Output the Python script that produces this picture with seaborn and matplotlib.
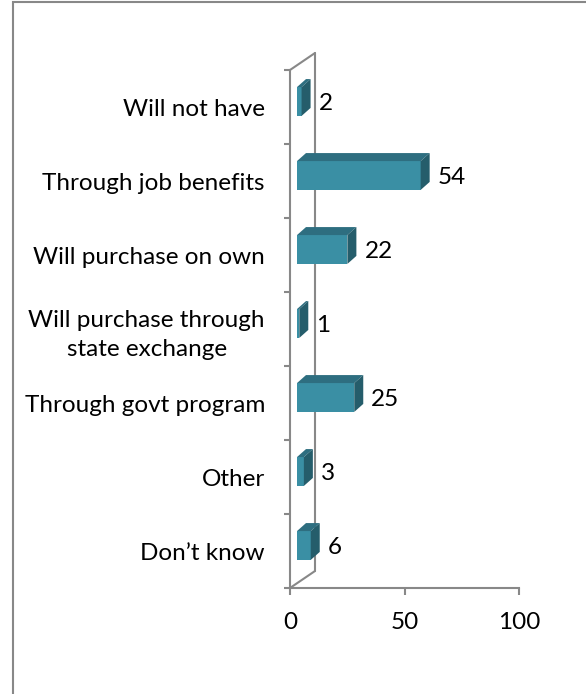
import numpy as np
import pandas as pd
import matplotlib
matplotlib.use("Agg")
import matplotlib.pyplot as plt
import seaborn as sns
from matplotlib.transforms import ScaledTranslation, IdentityTransform
from matplotlib.patches import Polygon, Rectangle
from matplotlib.lines import Line2D

categories = ["Will not have", "Through job benefits", "Will purchase on own",
              "Will purchase through\nstate exchange", "Through govt program",
              "Other", "Don\u2019t know"]
values = [2, 54, 22, 1, 25, 3, 6]
xticks = [0, 50, 100]

FRONT = "#3A8FA4"
TOP = "#2E6E80"
SIDE = "#255D6B"
GRAY = "#888888"
FS = 17.5

sns.set_theme(style="white")
plt.rcParams['font.family'] = ['Lato', 'DejaVu Sans']

DPI = 100
fig = plt.figure(figsize=(5.86, 6.94), dpi=DPI)
fig.patch.set_facecolor("white")
ax = fig.add_axes([290 / 586, 1 - 588 / 694, 229 / 586, 518 / 694])
ax.set_facecolor("none")

df = pd.DataFrame({"cat": categories, "val": values})
sns.barplot(data=df, x="val", y="cat", orient="h", width=0.39, color=FRONT,
            saturation=1, ax=ax, linewidth=0, errorbar=None)

ax.set_xlim(0, 100)
ax.set_ylim(6.5, -0.5)
ax.set_xlabel("")
ax.set_ylabel("")

ax.set_xticks(xticks)
ax.set_xticklabels([str(t) for t in xticks], fontsize=FS, color="black")
ax.set_yticks(range(len(categories)))
ax.set_yticklabels(categories, fontsize=FS, color="black")
for lab in ax.get_yticklabels():
    lab.set_multialignment("center")
    lab.set_linespacing(1.45)
ax.set_yticks(np.arange(-0.5, len(categories), 1.0), minor=True)
ax.tick_params(axis="y", which="major", length=0, pad=18)
ax.tick_params(axis="y", which="minor", length=4.3, width=1.5, color=GRAY, left=True)
ax.tick_params(axis="x", which="major", length=5, width=1.5, color=GRAY, pad=12, bottom=True)

for s in ["top", "right"]:
    ax.spines[s].set_visible(False)
for s in ["left", "bottom"]:
    ax.spines[s].set_color(GRAY)
    ax.spines[s].set_linewidth(1.5)

# 3D offsets (pixels)
BX, BY = 7, 5.5      # bar front face offset from the front plane
DX, DY = 9, 8        # bar depth
WX, WY = 25, 17      # wall depth

shift = ScaledTranslation(BX / DPI, BY / DPI, fig.dpi_scale_trans)
for p in list(ax.patches):
    x0, y0, w, h = p.get_x(), p.get_y(), p.get_width(), p.get_height()
    p.set_transform(ax.transData + shift)
    (L, B), (R, T) = ax.transData.transform([(x0, y0), (x0 + w, y0 + h)])
    L, R = min(L, R) + BX, max(L, R) + BX
    B, T = min(B, T) + BY, max(B, T) + BY
    top = Polygon([(L, T), (R, T), (R + DX, T + DY), (L + DX, T + DY)], closed=True,
                  transform=IdentityTransform(), facecolor=TOP, edgecolor="none",
                  clip_on=False, zorder=1.5)
    side = Polygon([(R, B), (R, T), (R + DX, T + DY), (R + DX, B + DY)], closed=True,
                   transform=IdentityTransform(), facecolor=SIDE, edgecolor="none",
                   clip_on=False, zorder=1.5)
    ax.add_patch(top)
    ax.add_patch(side)

# back wall and floor/top edges
(ax0, ay0), (ax1, ay1) = ax.transAxes.transform([(0, 0), (0, 1)])
for xs, ys in [([ax0 + WX, ax0 + WX], [ay0 + WY, ay1 + WY]),
               ([ax0, ax0 + WX], [ay0, ay0 + WY]),
               ([ax0, ax0 + WX], [ay1, ay1 + WY])]:
    ax.add_line(Line2D(xs, ys, transform=IdentityTransform(), color=GRAY,
                       linewidth=1.5, clip_on=False, zorder=0.5))

for i, v in enumerate(values):
    ax.annotate(str(v), xy=(v, i), xytext=(24, 4), textcoords="offset pixels",
                ha="left", va="center", fontsize=FS, color="black")

fig.add_artist(Rectangle((12.5 / 586, -0.1), 2, 1.1 - 1.5 / 694, transform=fig.transFigure,
                         facecolor="none", edgecolor=GRAY, linewidth=1.5, clip_on=False))

fig.savefig("out.png", dpi=DPI)
